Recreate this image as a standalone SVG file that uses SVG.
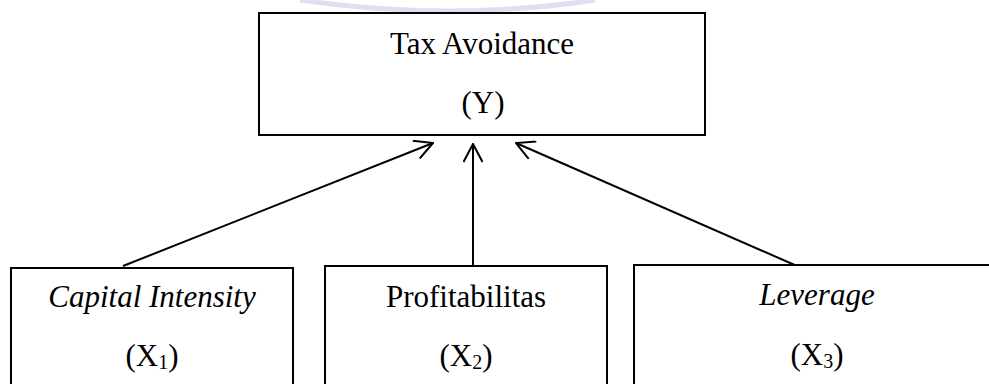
<svg xmlns="http://www.w3.org/2000/svg" width="989" height="384" viewBox="0 0 989 384">
<defs>
<style>
.box{fill:#fff;stroke:#000;stroke-width:2}
.t{font-size:31px;fill:#000;text-anchor:middle}
.i{font-style:italic}
.sub{font-size:20px}
.c{stroke:#000;stroke-width:2;fill:none}
</style>
<marker id="ah" viewBox="0 0 20 20" refX="19" refY="10" markerWidth="20" markerHeight="20" markerUnits="userSpaceOnUse" orient="auto">
<path d="M1,0.5 L19,10 L1,19.5" fill="none" stroke="#000" stroke-width="2"/>
</marker>
</defs>
<rect width="989" height="384" fill="#fff"/>
<path d="M300,0 Q450,22 595,0" fill="none" stroke="#d6d6f2" stroke-width="5" opacity="0.8"/>
<g id="connectors">
<line class="c" x1="123" y1="266" x2="433" y2="143" marker-end="url(#ah)"/>
<line class="c" x1="473" y1="266" x2="473" y2="144" marker-end="url(#ah)"/>
<line class="c" x1="797" y1="266" x2="516" y2="143" marker-end="url(#ah)"/>
</g>
<g id="node-y" font-family="'Liberation Serif', 'Times New Roman', serif">
<rect class="box" x="259" y="13" width="446" height="122"/>
<text class="t" x="482" y="54">Tax Avoidance</text>
<text class="t" x="483" y="113">(Y)</text>
</g>
<g id="node-x1" font-family="'Liberation Serif', 'Times New Roman', serif">
<rect class="box" x="11" y="268" width="282" height="130"/>
<text class="t i" x="152" y="307">Capital Intensity</text>
<text class="t" x="152" y="366">(X<tspan class="sub" dy="3">1</tspan><tspan dy="-3">)</tspan></text>
</g>
<g id="node-x2" font-family="'Liberation Serif', 'Times New Roman', serif">
<rect class="box" x="325" y="266" width="282" height="130"/>
<text class="t" x="466" y="307">Profitabilitas</text>
<text class="t" x="466" y="366">(X<tspan class="sub" dy="3">2</tspan><tspan dy="-3">)</tspan></text>
</g>
<g id="node-x3" font-family="'Liberation Serif', 'Times New Roman', serif">
<rect class="box" x="634" y="265" width="370" height="130"/>
<text class="t i" x="817" y="305">Leverage</text>
<text class="t" x="817" y="365">(X<tspan class="sub" dy="3">3</tspan><tspan dy="-3">)</tspan></text>
</g>
</svg>
